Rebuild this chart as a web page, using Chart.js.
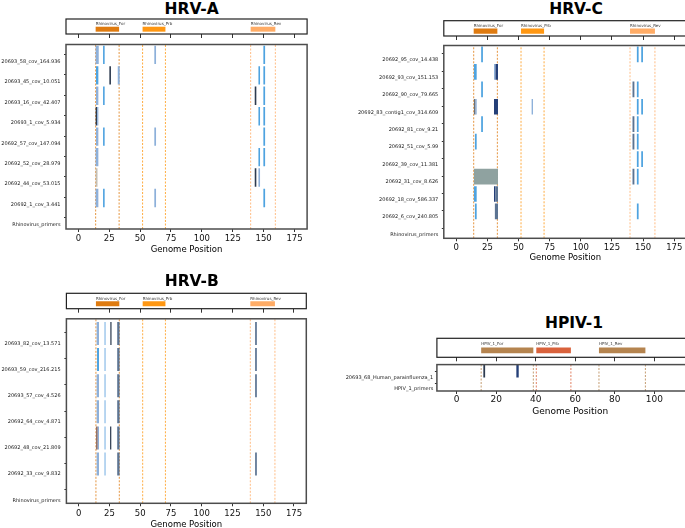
<!DOCTYPE html>
<html>
<head>
<meta charset="utf-8">
<script src="https://cdn.jsdelivr.net/npm/chart.js@4/dist/chart.umd.min.js"></script>
<style>
  html, body { margin: 0; padding: 0; background: #fff; }
  body { width: 685px; height: 528px; overflow: hidden; position: relative; }
  canvas { position: absolute; }
  .title { position: absolute; width: 200px; text-align: center; font: bold 15.5px "DejaVu Sans"; line-height: 1; color: #000; }
</style>
</head>
<body>
<script>
// ---- data ----
const hrvTicks  = [0, 25, 50, 75, 100, 125, 150, 175];
const hpivTicks = [0, 20, 40, 60, 80, 100, 120];

const rhinoPrimers = [
    ['Rhinovirus_For', 14, 33],
    ['Rhinovirus_Prb', 52, 70.5],
    ['Rhinovirus_Rev', 139.5, 159.5]
];
const rhinoPrimerColors = ['#df7b10', '#ff9712', '#ffac66'];

const hpivPrimers = [
    ['HPIV_1_For', 12.4, 38.8],
    ['HPIV_1_Prb', 40.3, 57.8],
    ['HPIV_1_Rev', 72, 95.5]
];
const hpivPrimerColors = ['#b5844f', '#d9623c', '#b5844f'];

// mark colours by kind
const markColors = {
    blue:  '#4ea3e0',
    steel: '#8db0da',
    light: '#8dbde8',
    dark:  '#2d3b4f',
    slate: '#5b7392',
    grey:  '#c4bfb4',
    navy:  '#243f78',
    block: '#8fa2a0',
    brown: '#8c6d66',
    ash:   '#66717d'
};

// rows are listed bottom to top
const hrvARows = ['Rhinovirus_primers', '20692_1_cov_3.441', '20692_44_cov_53.015', '20692_52_cov_28.979',
    '20692_57_cov_147.094', '20693_1_cov_5.934', '20693_16_cov_42.407', '20693_45_cov_10.051', '20693_58_cov_164.936'];
const hrvAMarks = [
    ['20693_58_cov_164.936', 14.0, 16.5, 'steel'], ['20693_58_cov_164.936', 20.0, 21.3, 'blue'],
    ['20693_58_cov_164.936', 61.5, 62.9, 'steel'], ['20693_58_cov_164.936', 149.8, 151.2, 'blue'],
    ['20693_45_cov_10.051', 14.3, 16.2, 'blue'], ['20693_45_cov_10.051', 25.1, 26.4, 'dark'],
    ['20693_45_cov_10.051', 31.9, 33.5, 'steel'], ['20693_45_cov_10.051', 145.8, 147.1, 'blue'],
    ['20693_45_cov_10.051', 149.8, 151.2, 'blue'],
    ['20693_16_cov_42.407', 14.3, 16.2, 'steel'], ['20693_16_cov_42.407', 20.0, 21.3, 'blue'],
    ['20693_16_cov_42.407', 142.8, 144.1, 'dark'], ['20693_16_cov_42.407', 149.8, 151.2, 'blue'],
    ['20693_1_cov_5.934', 14.0, 15.2, 'dark'], ['20693_1_cov_5.934', 15.2, 16.2, 'steel'],
    ['20693_1_cov_5.934', 145.8, 147.1, 'blue'], ['20693_1_cov_5.934', 149.8, 151.2, 'blue'],
    ['20692_57_cov_147.094', 14.3, 16.2, 'steel'], ['20692_57_cov_147.094', 20.0, 21.3, 'blue'],
    ['20692_57_cov_147.094', 61.5, 62.9, 'steel'], ['20692_57_cov_147.094', 149.8, 151.2, 'blue'],
    ['20692_52_cov_28.979', 14.0, 16.2, 'steel'], ['20692_52_cov_28.979', 145.8, 147.1, 'blue'],
    ['20692_52_cov_28.979', 149.8, 151.2, 'blue'],
    ['20692_44_cov_53.015', 14.0, 15.5, 'grey'], ['20692_44_cov_53.015', 142.8, 144.1, 'dark'],
    ['20692_44_cov_53.015', 145.8, 147.1, 'steel'],
    ['20692_1_cov_3.441', 14.0, 16.2, 'steel'], ['20692_1_cov_3.441', 20.0, 21.3, 'blue'],
    ['20692_1_cov_3.441', 61.5, 62.9, 'steel'], ['20692_1_cov_3.441', 149.8, 151.2, 'blue']
];

const hrvCRows = ['Rhinovirus_primers', '20692_6_cov_240.805', '20692_18_cov_586.337', '20692_31_cov_8.626',
    '20692_39_cov_11.381', '20692_51_cov_5.99', '20692_81_cov_9.21', '20692_83_contig1_cov_314.609',
    '20692_90_cov_79.665', '20692_93_cov_151.153', '20692_95_cov_14.438'];
const hrvCMarks = [
    ['20692_95_cov_14.438', 20.0, 21.4, 'blue'], ['20692_95_cov_14.438', 145.0, 146.4, 'blue'],
    ['20692_95_cov_14.438', 148.5, 149.9, 'blue'],
    ['20692_93_cov_151.153', 14.2, 16.4, 'blue'], ['20692_93_cov_151.153', 30.3, 31.5, 'steel'],
    ['20692_93_cov_151.153', 31.5, 33.5, 'navy'],
    ['20692_90_cov_79.665', 20.0, 21.4, 'blue'], ['20692_90_cov_79.665', 141.5, 143.0, 'slate'],
    ['20692_90_cov_79.665', 145.0, 146.4, 'blue'],
    ['20692_83_contig1_cov_314.609', 14.2, 15.5, 'ash'], ['20692_83_contig1_cov_314.609', 15.5, 16.4, 'steel'],
    ['20692_83_contig1_cov_314.609', 30.3, 33.5, 'navy'], ['20692_83_contig1_cov_314.609', 60.5, 61.6, 'steel'],
    ['20692_83_contig1_cov_314.609', 145.0, 146.4, 'blue'], ['20692_83_contig1_cov_314.609', 148.5, 149.9, 'blue'],
    ['20692_81_cov_9.21', 20.0, 21.4, 'blue'], ['20692_81_cov_9.21', 141.5, 143.0, 'slate'],
    ['20692_81_cov_9.21', 145.0, 146.4, 'blue'],
    ['20692_51_cov_5.99', 15.0, 16.4, 'blue'], ['20692_51_cov_5.99', 141.5, 143.0, 'slate'],
    ['20692_51_cov_5.99', 145.0, 146.4, 'blue'],
    ['20692_39_cov_11.381', 145.0, 146.4, 'blue'], ['20692_39_cov_11.381', 148.5, 149.9, 'blue'],
    ['20692_31_cov_8.626', 14.2, 33.5, 'block'], ['20692_31_cov_8.626', 141.5, 143.0, 'slate'],
    ['20692_31_cov_8.626', 145.0, 146.4, 'blue'],
    ['20692_18_cov_586.337', 14.2, 16.4, 'blue'], ['20692_18_cov_586.337', 30.3, 31.5, 'navy'],
    ['20692_18_cov_586.337', 31.5, 33.5, 'slate'],
    ['20692_6_cov_240.805', 15.0, 16.4, 'blue'], ['20692_6_cov_240.805', 31.0, 33.5, 'slate'],
    ['20692_6_cov_240.805', 145.0, 146.4, 'blue']
];

const hrvBRows = ['Rhinovirus_primers', '20692_33_cov_9.832', '20692_48_cov_21.809', '20692_64_cov_4.871',
    '20693_57_cov_4.526', '20693_59_cov_216.215', '20693_82_cov_13.571'];
const hrvBMarks = [
    ['20693_82_cov_13.571', 14.6, 16.5, 'steel'], ['20693_82_cov_13.571', 20.9, 21.9, 'light'],
    ['20693_82_cov_13.571', 25.7, 26.7, 'dark'], ['20693_82_cov_13.571', 31.3, 33.2, 'slate'],
    ['20693_82_cov_13.571', 143.4, 144.8, 'slate'],
    ['20693_59_cov_216.215', 14.9, 16.5, 'blue'], ['20693_59_cov_216.215', 20.9, 21.9, 'light'],
    ['20693_59_cov_216.215', 31.3, 33.2, 'slate'], ['20693_59_cov_216.215', 143.4, 144.8, 'slate'],
    ['20693_57_cov_4.526', 14.6, 16.5, 'steel'], ['20693_57_cov_4.526', 20.9, 21.9, 'light'],
    ['20693_57_cov_4.526', 31.3, 33.2, 'slate'], ['20693_57_cov_4.526', 143.4, 144.8, 'slate'],
    ['20692_64_cov_4.871', 14.6, 16.5, 'steel'], ['20692_64_cov_4.871', 20.9, 21.9, 'light'],
    ['20692_64_cov_4.871', 31.3, 33.2, 'slate'],
    ['20692_48_cov_21.809', 14.1, 15.5, 'brown'], ['20692_48_cov_21.809', 15.5, 16.5, 'steel'],
    ['20692_48_cov_21.809', 20.9, 21.9, 'light'], ['20692_48_cov_21.809', 25.5, 26.5, 'dark'],
    ['20692_48_cov_21.809', 31.3, 33.2, 'slate'],
    ['20692_33_cov_9.832', 14.6, 16.5, 'steel'], ['20692_33_cov_9.832', 20.9, 21.9, 'light'],
    ['20692_33_cov_9.832', 31.3, 33.2, 'slate'], ['20692_33_cov_9.832', 143.4, 144.8, 'slate']
];

const hpivRows = ['HPIV_1_primers', '20693_68_Human_parainfluenza_1'];
const hpivMarks = [
    ['20693_68_Human_parainfluenza_1', 13.5, 14.4, 'dark'],
    ['20693_68_Human_parainfluenza_1', 30.2, 31.4, 'navy']
];

// ---- layout of the four panels ----
const panels = [
    { title: 'HRV-A', titleX: 191.7, titleY: 9, rows: hrvARows, marks: hrvAMarks,
      primers: rhinoPrimers, primerColors: rhinoPrimerColors, ticks: hrvTicks,
      plotLeft: 66, plotRight: 307.1, xMin: -10, xMax: 185.2,
      boxTop: 19, boxBottom: 34, plotTop: 41, plotBottom: 229,
      yMin: -0.05, yMax: 8.98, labelW: 66, labelOffset: -3, yPad: 3.5,
      axisH: 25.6, tickPad: 1.3, tickFont: 8.5, axisTitleFont: 8.5,
      barCenter: 0.47, barPct: 0.9, primerY: 0.32, primerPct: 0.33, primerLabelY: 0.65 },
    { title: 'HRV-C', titleX: 576, titleY: 9, rows: hrvCRows, marks: hrvCMarks,
      primers: rhinoPrimers, primerColors: rhinoPrimerColors, ticks: hrvTicks,
      plotLeft: 443.8, plotRight: 686.7, xMin: -10, xMax: 185,
      boxTop: 20.7, boxBottom: 36, plotTop: 42.7, plotBottom: 238.3,
      yMin: -0.07, yMax: 10.98, labelW: 103.8, labelOffset: -2.7, yPad: 3.5,
      axisH: 24.8, tickPad: 1.3, tickFont: 8.5, axisTitleFont: 8.5,
      barCenter: 0.47, barPct: 0.9, primerY: 0.32, primerPct: 0.33, primerLabelY: 0.65 },
    { title: 'HRV-B', titleX: 191.7, titleY: 281.7, rows: hrvBRows, marks: hrvBMarks,
      primers: rhinoPrimers, primerColors: rhinoPrimerColors, ticks: hrvTicks,
      plotLeft: 66.4, plotRight: 306.3, xMin: -10, xMax: 185,
      boxTop: 293.3, boxBottom: 308.7, plotTop: 315, plotBottom: 503.3,
      yMin: -0.03, yMax: 7.03, labelW: 66.4, labelOffset: -2.3, yPad: 3.8,
      axisH: 26.8, tickPad: 2, tickFont: 8.5, axisTitleFont: 8.5,
      barCenter: 0.47, barPct: 0.88, primerY: 0.32, primerPct: 0.33, primerLabelY: 0.65 },
    { title: 'HPIV-1', titleX: 574, titleY: 323.3, rows: hpivRows, marks: hpivMarks,
      primers: hpivPrimers, primerColors: hpivPrimerColors, ticks: hpivTicks,
      plotLeft: 436.9, plotRight: 703.7, xMin: -10, xMax: 125,
      boxTop: 338.3, boxBottom: 357.3, plotTop: 363.3, plotBottom: 391,
      yMin: -0.17, yMax: 2.14, labelW: 106.9, labelOffset: 0, yPad: 1.6,
      axisH: 26.1, tickPad: 0.3, tickFont: 9, axisTitleFont: 9,
      barCenter: 1.0, barPct: 1.96, primerY: 0.36, primerPct: 0.3, primerLabelY: 0.72 }
];

const FONT = 'DejaVu Sans';

const framePlugin = (color, width) => ({
    id: 'frame',
    afterDraw(chart) {
        const a = chart.chartArea, ctx = chart.ctx;
        ctx.save();
        ctx.strokeStyle = color;
        ctx.lineWidth = width;
        ctx.strokeRect(a.left, a.top, a.right - a.left, a.bottom - a.top);
        ctx.restore();
    }
});

// Primer names written above their bars in the top box.
const primerLabelPlugin = (p) => ({
    id: 'primerLabels',
    afterDatasetsDraw(chart) {
        const { ctx, scales: { x, y } } = chart;
        ctx.save();
        ctx.font = `4px "${FONT}"`;
        ctx.fillStyle = '#333';
        ctx.textBaseline = 'middle';
        for (let pr of p.primers) {
            ctx.fillText(pr[0], x.getPixelForValue(pr[1]), y.getPixelForValue(p.primerLabelY));
        }
        ctx.restore();
    }
});

const addCanvas = (left, top, width, height) => {
    const c = document.createElement('canvas');
    c.width = width;
    c.height = height;
    c.style.left = left + 'px';
    c.style.top = top + 'px';
    document.body.appendChild(c);
    return c;
};

const addTitle = (p) => {
    const d = document.createElement('div');
    d.className = 'title';
    d.textContent = p.title;
    d.style.left = (p.titleX - 100) + 'px';
    d.style.top = (p.titleY - 7.5) + 'px';
    document.body.appendChild(d);
};

const primerChart = (p) => {
    const cl = Math.floor(p.plotLeft) - 2, ct = Math.floor(p.boxTop) - 2;
    const cw = Math.ceil(p.plotRight - cl + 3), ch = Math.ceil(p.boxBottom - ct + 5);
    const canvas = addCanvas(cl, ct, cw, ch);
    new Chart(canvas, {
        type: 'bar',
        data: {
            datasets: [{
                data: p.primers.map(pr => ({ x: [pr[1], pr[2]], y: p.primerY })),
                backgroundColor: p.primerColors,
                barPercentage: p.primerPct,
                categoryPercentage: 1,
                grouped: false
            }]
        },
        options: {
            indexAxis: 'y', responsive: false, animation: false, devicePixelRatio: 1,
            layout: { padding: { left: p.plotLeft - cl, top: p.boxTop - ct,
                right: cw - (p.plotRight - cl), bottom: ch - (p.boxBottom - ct) - 5 } },
            plugins: { legend: { display: false }, tooltip: { enabled: false } },
            scales: {
                x: {
                    type: 'linear', min: p.xMin, max: p.xMax,
                    afterBuildTicks: s => { s.ticks = p.ticks.map(v => ({ value: v })); },
                    ticks: { display: false },
                    grid: { drawOnChartArea: false, tickLength: 4, color: '#333', tickWidth: 1 },
                    border: { display: false },
                    afterFit: s => { s.height = 5; }
                },
                y: {
                    type: 'linear', min: 0, max: 1, offset: false,
                    afterBuildTicks: s => { s.ticks = [{ value: 0 }, { value: 1 }]; },
                    ticks: { display: false },
                    grid: { display: false },
                    border: { display: false },
                    afterFit: s => { s.width = 0; }
                }
            }
        },
        plugins: [primerLabelPlugin(p), framePlugin('#222', 1.2)]
    });
};

const mainChart = (p) => {
    const cl = Math.floor(p.plotLeft - p.labelW), ct = Math.floor(p.plotTop - 3);
    const cw = Math.ceil(p.plotRight - cl + 3), ch = Math.ceil(p.plotBottom - ct + p.axisH);
    const canvas = addCanvas(cl, ct, cw, ch);

    // dashed guides at each primer start and end
    const guides = [];
    p.primers.forEach((pr, i) => {
        for (let v of [pr[1], pr[2]]) {
            guides.push({
                type: 'line',
                data: [{ x: v, y: p.yMin }, { x: v, y: p.yMax }],
                borderColor: p.primerColors[i] + 'cc',
                borderWidth: 1,
                borderDash: [2, 1.5],
                pointRadius: 0,
                order: 2
            });
        }
    });

    new Chart(canvas, {
        type: 'bar',
        data: {
            datasets: [...guides, {
                type: 'bar',
                data: p.marks.map(m => ({ x: [m[1], m[2]], y: p.rows.indexOf(m[0]) + p.barCenter })),
                backgroundColor: p.marks.map(m => markColors[m[3]]),
                barPercentage: p.barPct,
                categoryPercentage: 1,
                grouped: false,
                order: 1
            }]
        },
        options: {
            indexAxis: 'y', responsive: false, animation: false, devicePixelRatio: 1,
            layout: { padding: { left: 0, top: p.plotTop - ct,
                right: cw - (p.plotRight - cl), bottom: ch - (p.plotBottom - ct) - p.axisH } },
            plugins: { legend: { display: false }, tooltip: { enabled: false } },
            scales: {
                x: {
                    type: 'linear', min: p.xMin, max: p.xMax,
                    afterBuildTicks: s => { s.ticks = p.ticks.map(v => ({ value: v })); },
                    ticks: { color: '#111', padding: p.tickPad, maxRotation: 0, autoSkip: false,
                        font: { family: FONT, size: p.tickFont } },
                    grid: { drawOnChartArea: false, tickLength: 3, color: '#333' },
                    border: { display: false },
                    title: { display: true, text: 'Genome Position', color: '#000',
                        padding: { top: 0, bottom: 0 }, font: { family: FONT, size: p.axisTitleFont } },
                    afterFit: s => { s.height = p.axisH; }
                },
                y: {
                    type: 'linear', min: p.yMin, max: p.yMax, offset: false,
                    afterBuildTicks: s => { s.ticks = p.rows.map((_, i) => ({ value: i })); },
                    ticks: { callback: v => p.rows[v], color: '#222', autoSkip: false,
                        padding: p.yPad, labelOffset: p.labelOffset, font: { family: FONT, size: 5 } },
                    grid: { drawOnChartArea: false, tickLength: 2, color: '#333' },
                    border: { display: false },
                    afterFit: s => { s.width = p.plotLeft - cl; }
                }
            }
        },
        plugins: [framePlugin('#4d4d4d', 1.5)]
    });
};

for (let p of panels) {
    addTitle(p);
    primerChart(p);
    mainChart(p);
}
</script>
</body>
</html>
